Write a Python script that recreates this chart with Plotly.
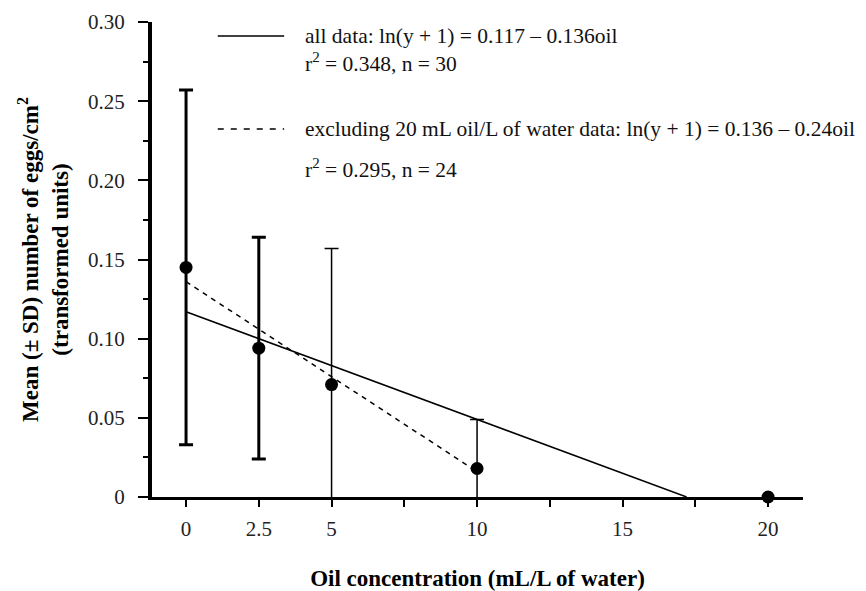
import plotly.graph_objects as go

# ---- data ----
oil_thick = [0, 2.5]
mean_thick = [0.145, 0.094]
sd_thick = [0.112, 0.070]

oil_thin = [5, 10]
mean_thin = [0.071, 0.018]
sd_thin = [0.086, 0.031]

oil_zero = [20]
mean_zero = [0.0]

fit_all_x = [0, 17.2]
fit_all_y = [0.117, 0.0]
fit_excl_x = [0, 10]
fit_excl_y = [0.136, 0.016]

x_tickvals = [0, 2.5, 5, 10, 15, 20]
x_ticktext = ["0", "2.5", "5", "10", "15", "20"]
x_minorvals = [7.5, 12.5, 17.5]
y_tickvals = [0, 0.05, 0.10, 0.15, 0.20, 0.25, 0.30]
y_ticktext = ["0", "0.05", "0.10", "0.15", "0.20", "0.25", "0.30"]
y_minorvals = [0.025, 0.075, 0.125, 0.175, 0.225, 0.275]

legend_lines = ["all data: ln(y + 1) = 0.117 \u2013 0.136oil", "r<sup>2</sup> = 0.348, n = 30",
                "excluding 20 mL oil/L of water data: ln(y + 1) = 0.136 \u2013 0.24oil",
                "r<sup>2</sup> = 0.295, n = 24"]

SERIF = "Liberation Serif, Times New Roman, serif"

fig = go.Figure()

fig.add_trace(go.Scatter(x=fit_all_x, y=fit_all_y, mode="lines",
                         line=dict(color="black", width=1.5), showlegend=False))
fig.add_trace(go.Scatter(x=fit_excl_x, y=fit_excl_y, mode="lines",
                         line=dict(color="black", width=1.5, dash="5px,5px"), showlegend=False))

fig.add_trace(go.Scatter(x=oil_thick, y=mean_thick, mode="markers",
                         marker=dict(color="black", size=13),
                         error_y=dict(type="data", array=sd_thick, visible=True,
                                      color="black", thickness=3, width=7),
                         showlegend=False))
fig.add_trace(go.Scatter(x=oil_thin, y=mean_thin, mode="markers",
                         marker=dict(color="black", size=13),
                         error_y=dict(type="data", array=sd_thin, visible=True,
                                      color="black", thickness=1.5, width=7),
                         showlegend=False))
fig.add_trace(go.Scatter(x=oil_zero, y=mean_zero, mode="markers",
                         marker=dict(color="black", size=13), cliponaxis=False,
                         showlegend=False))

# legend keys (paper coordinates)
fig.add_shape(type="line", xref="paper", yref="paper", x0=0.101, x1=0.203, y0=0.9705, y1=0.9705,
              line=dict(color="black", width=1.5))
fig.add_shape(type="line", xref="paper", yref="paper", x0=0.101, x1=0.203, y0=0.7747, y1=0.7747,
              line=dict(color="black", width=1.5, dash="6px,7px"))

ann_y = [0.9705, 0.9137, 0.7747, 0.6926]
for txt, yy in zip(legend_lines, ann_y):
    fig.add_annotation(text=txt, xref="paper", yref="paper", x=0.232, y=yy,
                       xanchor="left", yanchor="middle", showarrow=False,
                       font=dict(family=SERIF, size=21.5, color="#111"))

fig.update_layout(
    width=858, height=583, template="none",
    margin=dict(l=144, r=63, t=14, b=94),
    paper_bgcolor="white", plot_bgcolor="white",
    font=dict(family=SERIF, size=21, color="#222"),
    xaxis=dict(range=[-1.17, 21.2], showgrid=False, zeroline=False,
               showline=True, linecolor="black", linewidth=3,
               tickmode="array", tickvals=x_tickvals, ticktext=x_ticktext,
               ticks="outside", ticklen=7, tickwidth=2, tickcolor="black",
               ticklabelstandoff=4, automargin=False,
               minor=dict(tickvals=x_minorvals, ticks="outside", ticklen=7, tickwidth=2,
                          tickcolor="black", showgrid=False),
               tickfont=dict(family=SERIF, size=21, color="#222"),
               title=dict(text="<b>Oil concentration (mL/L of water)</b>",
                          font=dict(family=SERIF, size=23, color="black"), standoff=31)),
    yaxis=dict(range=[0, 0.30], showgrid=False, zeroline=False,
               showline=True, linecolor="black", linewidth=4,
               tickmode="array", tickvals=y_tickvals, ticktext=y_ticktext,
               ticks="outside", ticklen=10, tickwidth=2, tickcolor="black",
               ticklabelstandoff=9, automargin=False,
               minor=dict(tickvals=y_minorvals, ticks="outside", ticklen=5, tickwidth=2,
                          tickcolor="black", showgrid=False),
               tickfont=dict(family=SERIF, size=21, color="#222"),
               title=dict(text="<b>Mean (\u00b1 SD) number of eggs/cm<sup>2</sup><br>(transformed units)</b>",
                          font=dict(family=SERIF, size=23, color="black"), standoff=14)),
)

fig.write_html("out.html")
